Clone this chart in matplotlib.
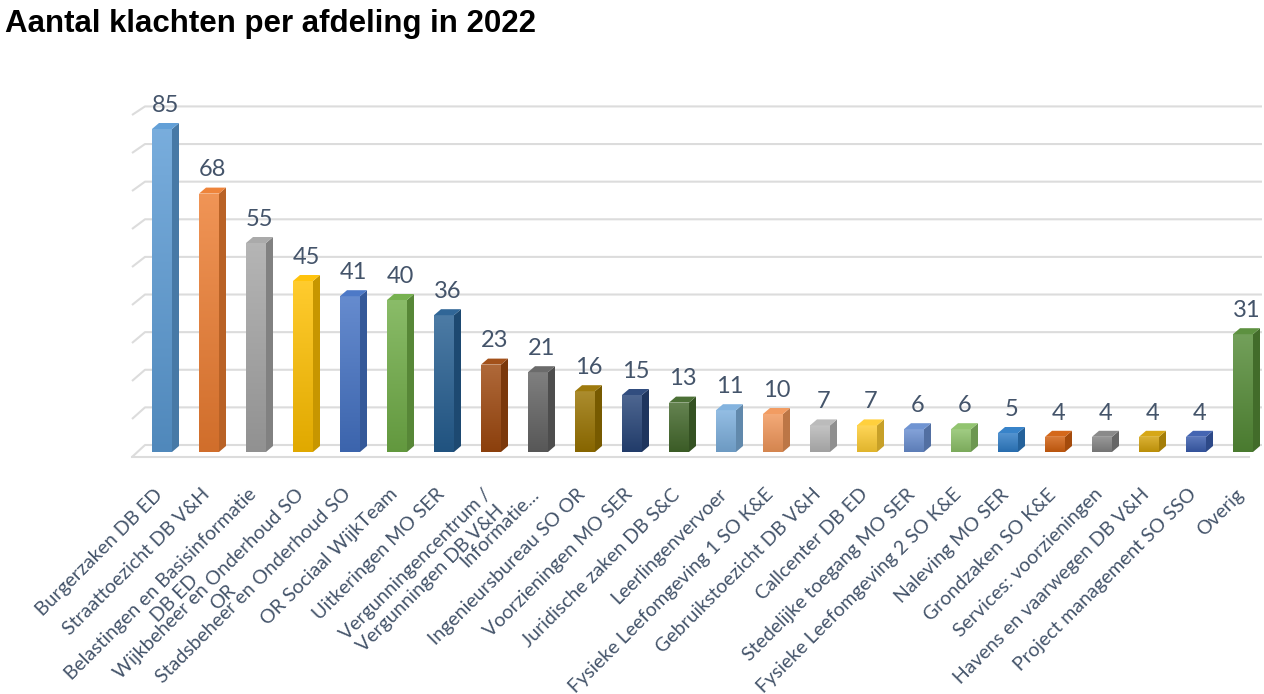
import numpy as np
import matplotlib
matplotlib.use("Agg")
import matplotlib.pyplot as plt
from matplotlib.patches import Polygon
from matplotlib.colors import to_rgb
from matplotlib.transforms import blended_transform_factory, ScaledTranslation

# data
afdelingen = [
    "Burgerzaken DB ED", "Straattoezicht DB V&H",
    "Belastingen en Basisinformatie\nDB ED", "Wijkbeheer en Onderhoud SO\nOR",
    "Stadsbeheer en Onderhoud SO", "OR Sociaal WijkTeam", "Uitkeringen MO SER",
    "Vergunningencentrum /\nVergunningen DB V&H", "Informatie...",
    "Ingenieursbureau SO OR", "Voorzieningen MO SER", "Juridische zaken DB S&C",
    "Leerlingenvervoer", "Fysieke Leefomgeving 1 SO K&E", "Gebruikstoezicht DB V&H",
    "Callcenter DB ED", "Stedelijke toegang MO SER", "Fysieke Leefomgeving 2 SO K&E",
    "Naleving MO SER", "Grondzaken SO K&E", "Services: voorzieningen",
    "Havens en vaarwegen DB V&H", "Project management SO SSO", "Overig",
]
klachten = [85, 68, 55, 45, 41, 40, 36, 23, 21, 16, 15, 13, 11, 10, 7, 7, 6, 6, 5, 4, 4, 4, 4, 31]
kleuren = [
    "#5B9BD5", "#ED7D31", "#A5A5A5", "#FFC000", "#4472C4", "#70AD47",
    "#255E91", "#9E480E", "#636363", "#997300", "#264478", "#43682B",
    "#7CAFDD", "#F1975A", "#B7B7B7", "#FFCD33", "#698ED0", "#8CC168",
    "#2E7CC6", "#D2600F", "#848484", "#D4A20A", "#3A5DAE", "#548B36",
]
grid_waarden = list(range(0, 100, 10))

txt_kleur = "#44546A"


def mix(c, other, t):
    a = np.array(to_rgb(c))
    b = np.array(to_rgb(other))
    return tuple(a * (1 - t) + b * t)


# layout in pixels
W, H = 1264, 694
px0, sx = 162, 47.0      # pixel of first bar, pixels per category
base, sy = 452, 3.8      # pixel row of value 0, pixels per unit
left_px, right_px, top_px, bot_px = 126, 1264, 85, 462

fig = plt.figure(figsize=(W / 100, H / 100), dpi=100)
ax = fig.add_axes([left_px / W, 1 - bot_px / H, (right_px - left_px) / W, (bot_px - top_px) / H])
ax.set_xlim((left_px - px0) / sx, (right_px - px0) / sx)
ax.set_ylim((base - bot_px) / sy, (base - top_px) / sy)

# depth of the 3d look
bdx, bdy = 7 / sx, 6 / sy           # bars
floor_front = -5 / sy
wall = 7 / sy
persp = 0.99                         # back wall is a bit smaller
wall_x = (145 - px0) / sx
front_x = (132 - px0) / sx
x_end = (1262 - px0) / sx

# back wall gridlines
for g in grid_waarden:
    ax.plot([front_x, wall_x, x_end], [g + floor_front, g * persp + wall, g * persp + wall],
            color="#DCDCDC", lw=1.5, zorder=1, solid_capstyle="butt")
ax.plot([front_x, x_end - (wall_x - front_x)], [floor_front, floor_front],
        color="#DCDCDC", lw=1.5, zorder=1)

x = np.arange(len(klachten))
w = 20 / sx
bars = ax.bar(x, klachten, width=w, color=kleuren, zorder=3)

grad = np.linspace(0, 1, 64)
for xi, v, c, b in zip(x, klachten, kleuren, bars):
    x0, x1 = xi - w / 2, xi + w / 2
    img = np.array([mix(mix(c, "white", 0.18), mix(c, "black", 0.12), t) for t in grad])
    im = ax.imshow(img[:, None, :], extent=(x0, x1, 0, v), aspect="auto",
                   origin="upper", zorder=3.1, interpolation="bilinear")
    im.set_clip_path(b)
    side = Polygon([(x1, 0), (x1 + bdx, bdy), (x1 + bdx, v + bdy), (x1, v)],
                   closed=True, facecolor=mix(c, "black", 0.22), edgecolor="none", zorder=3.2)
    top = Polygon([(x0, v), (x1, v), (x1 + bdx, v + bdy), (x0 + bdx, v + bdy)],
                  closed=True, facecolor=mix(c, "white", 0.05), edgecolor="none", zorder=3.2)
    ax.add_patch(side)
    ax.add_patch(top)
    ax.annotate(str(v), (xi + bdx / 2, v), xytext=(0, 9.5), textcoords="offset points",
                ha="center", va="bottom", fontsize=17, color=txt_kleur, family="Lato")

# category labels, rotated like the excel axis
lab_tr = blended_transform_factory(ax.transData, ax.transAxes) + \
    ScaledTranslation(-6 / 72, -17 / 72, fig.dpi_scale_trans)
for xi, lab in zip(x, afdelingen):
    ax.text(xi, 0, lab, transform=lab_tr, rotation=45, rotation_mode="anchor",
            ha="right", va="top", fontsize=14, color=txt_kleur, family="Lato",
            multialignment="center", clip_on=False)
ax.set_xticks([])
ax.set_yticks([])
for s in ax.spines.values():
    s.set_visible(False)

fig.text(5 / W, 1 - 9 / H, "Aantal klachten per afdeling in 2022", fontsize=22.5,
         fontweight="bold", family="Liberation Sans", ha="left", va="top")

fig.savefig("out.png", dpi=100)
